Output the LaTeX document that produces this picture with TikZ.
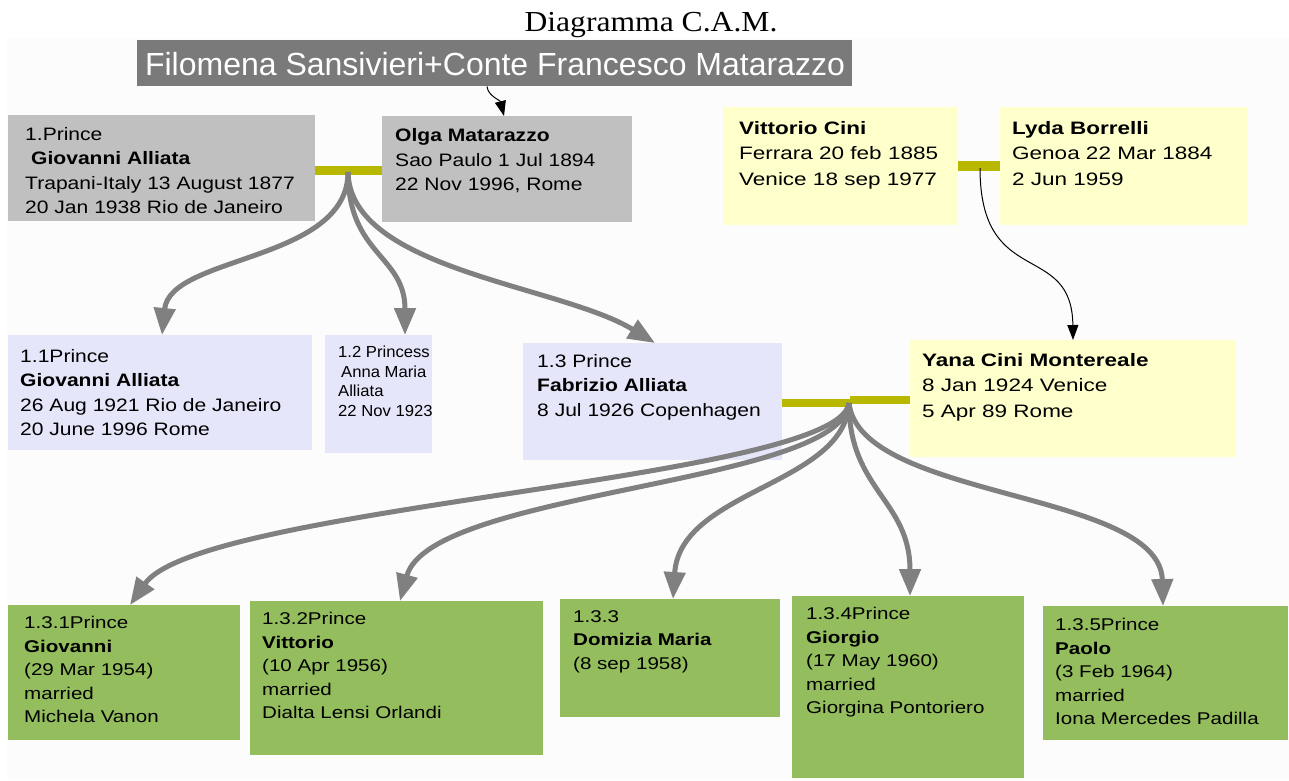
\documentclass[tikz,border=0pt]{standalone}
\usepackage{fontspec}
\setmainfont{Liberation Sans}
\newfontfamily\boxfont[FakeStretch=1.17]{Liberation Sans}
\newfontfamily\yelfont[FakeStretch=1.25]{Liberation Sans}
\newfontfamily\greenfont[FakeStretch=1.21]{Liberation Sans}
\newfontfamily\smallfont[FakeStretch=1.04]{Liberation Sans}
\newfontfamily\titlefont[FakeStretch=1.09]{Liberation Serif}
\usetikzlibrary{arrows.meta}
\definecolor{bgc}{HTML}{FCFCFC}
\definecolor{graybox}{HTML}{C0C0C0}
\definecolor{topgray}{HTML}{7A7A7A}
\definecolor{lavbox}{HTML}{E6E6FA}
\definecolor{yelbox}{HTML}{FFFFCC}
\definecolor{grnbox}{HTML}{94BD5E}
\definecolor{barc}{HTML}{B8B800}
\definecolor{arrgray}{HTML}{808080}
\tikzset{
  famrect/.style={draw=none, inner sep=0pt, anchor=north west},
  txt/.style={inner sep=0pt, anchor=north west, align=left, text=black, font={\boxfont\fontsize{18}{24.5}\selectfont}},
  ytxt/.style={txt, font={\yelfont\fontsize{18}{25.5}\selectfont}},
  gtxt/.style={txt, font={\greenfont\fontsize{17}{23.5}\selectfont}},
  stxt/.style={txt, font={\smallfont\fontsize{16}{19.5}\selectfont}},
  barrect/.style={fill=barc, draw=none, inner sep=0pt, anchor=north west},
  kid/.style={draw=arrgray, line width=5pt, -{Triangle[length=27pt,width=21pt]}},
  thinarr/.style={draw=black, line width=1pt, -{Triangle[length=15pt,width=11pt]}}
}
\begin{document}
\begin{tikzpicture}[x=1pt,y=-1pt]
\useasboundingbox (0,0) rectangle (1289,780);
\fill[bgc] (7,38) rectangle (1289,780);

% title
\node[inner sep=0pt, anchor=base, font={\titlefont\fontsize{29}{32}\selectfont}] (title) at (651,31) {Diagramma C.A.M.};
\node[famrect, fill=topgray, minimum width=715pt, minimum height=46pt] (root) at (137,40) {};
\node[inner sep=0pt, text=white, font={\fontsize{32}{36}\selectfont}] (roott) at (495,64) {Filomena Sansivieri+Conte Francesco Matarazzo};

% generation 1
\node[famrect, fill=graybox, minimum width=307pt, minimum height=106pt] (gA) at (8,115) {};
\node[txt] (gAt) at (25,127) {1.Prince\\\hspace{6pt}\textbf{Giovanni Alliata}\\Trapani-Italy 13 August 1877\\20 Jan 1938 Rio de Janeiro};
\node[famrect, fill=graybox, minimum width=250pt, minimum height=106pt] (olga) at (382,116) {};
\node[txt] (olgat) at (395,128.5) {\textbf{Olga Matarazzo}\\Sao Paulo 1 Jul 1894\\22 Nov 1996, Rome};
\node[barrect, minimum width=67pt, minimum height=9pt] (bar1) at (315,166) {};
\coordinate (m1) at (348,172);

\node[famrect, fill=yelbox, minimum width=235pt, minimum height=118pt] (vc) at (723,107) {};
\node[ytxt] (vct) at (739,121) {\textbf{Vittorio Cini}\\Ferrara 20 feb 1885\\Venice 18 sep 1977};
\node[famrect, fill=yelbox, minimum width=248pt, minimum height=118pt] (lb) at (1000,107) {};
\node[ytxt] (lbt) at (1012,121) {\textbf{Lyda Borrelli}\\Genoa 22 Mar 1884\\2 Jun 1959};
\node[barrect, minimum width=42pt, minimum height=10pt] (bar2) at (958,161) {};
\coordinate (m2) at (980,168);

% generation 2
\node[famrect, fill=lavbox, minimum width=304pt, minimum height=115pt] (c1) at (8,335) {};
\node[txt] (c1t) at (20,349) {1.1Prince\\\textbf{Giovanni Alliata}\\26 Aug 1921 Rio de Janeiro\\20 June 1996 Rome};
\node[famrect, fill=lavbox, minimum width=107pt, minimum height=118pt] (c2) at (325,335) {};
\node[stxt] (c2t) at (338,346) {1.2 Princess\\\hspace{3pt}Anna Maria\\Alliata\\22 Nov 1923};
\node[famrect, fill=lavbox, minimum width=259pt, minimum height=117pt] (c3) at (523,343) {};
\node[txt] (c3t) at (537,354) {1.3 Prince\\\textbf{Fabrizio Alliata}\\8 Jul 1926 Copenhagen};
\node[famrect, fill=yelbox, minimum width=326pt, minimum height=117pt] (yana) at (910,340) {};
\node[ytxt] (yanat) at (922,353) {\textbf{Yana Cini Montereale}\\8 Jan 1924 Venice\\5 Apr 89 Rome};
\node[barrect, minimum width=68pt, minimum height=8pt] (bar3a) at (782,399) {};
\node[barrect, minimum width=60pt, minimum height=8pt] (bar3b) at (850,396) {};
\coordinate (m3) at (849,403);

% generation 3
\node[famrect, fill=grnbox, minimum width=232pt, minimum height=135pt] (g1) at (8,605) {};
\node[gtxt] (g1t) at (24,616) {1.3.1Prince\\\textbf{Giovanni}\\(29 Mar 1954)\\married\\Michela Vanon};
\node[famrect, fill=grnbox, minimum width=293pt, minimum height=154pt] (g2) at (250,601) {};
\node[gtxt] (g2t) at (262,612) {1.3.2Prince\\\textbf{Vittorio}\\(10 Apr 1956)\\married\\Dialta Lensi Orlandi};
\node[famrect, fill=grnbox, minimum width=220pt, minimum height=118pt] (g3) at (560,599) {};
\node[gtxt] (g3t) at (573,610) {1.3.3\\\textbf{Domizia Maria}\\(8 sep 1958)};
\node[famrect, fill=grnbox, minimum width=232pt, minimum height=182pt] (g4) at (792,596) {};
\node[gtxt] (g4t) at (806,607) {1.3.4Prince\\\textbf{Giorgio}\\(17 May 1960)\\married\\Giorgina Pontoriero};
\node[famrect, fill=grnbox, minimum width=245pt, minimum height=134pt] (g5) at (1043,606) {};
\node[gtxt] (g5t) at (1055,618) {1.3.5Prince\\\textbf{Paolo}\\(3 Feb 1964)\\married\\Iona Mercedes Padilla};

% connectors
\draw[thinarr] ([xshift=350pt]root.south west) .. controls (488,96) and (500,100) .. ([xshift=122pt]olga.north west);
\draw[thinarr] (m2) .. controls (980,290) and (1072,240) .. ([xshift=163pt]yana.north west);

\draw[kid] (m1) .. controls (348,262) and (170,255) .. ([xshift=154pt]c1.north west);
\draw[kid] (m1) .. controls (348,255) and (405,255) .. ([xshift=80pt]c2.north west);
\draw[kid] (m1) .. controls (350,270) and (560,285) .. ([xshift=132pt]c3.north west);

\draw[kid] (m3) .. controls (840,480) and (200,505) .. ([xshift=122pt]g1.north west);
\draw[kid] (m3) .. controls (842,485) and (430,490) .. ([xshift=150pt]g2.north west);
\draw[kid] (m3) .. controls (845,485) and (680,490) .. ([xshift=113pt]g3.north west);
\draw[kid] (m3) .. controls (849,490) and (910,500) .. ([xshift=118pt]g4.north west);
\draw[kid] (m3) .. controls (860,500) and (1160,490) .. ([xshift=120pt]g5.north west);
\end{tikzpicture}
\end{document}
